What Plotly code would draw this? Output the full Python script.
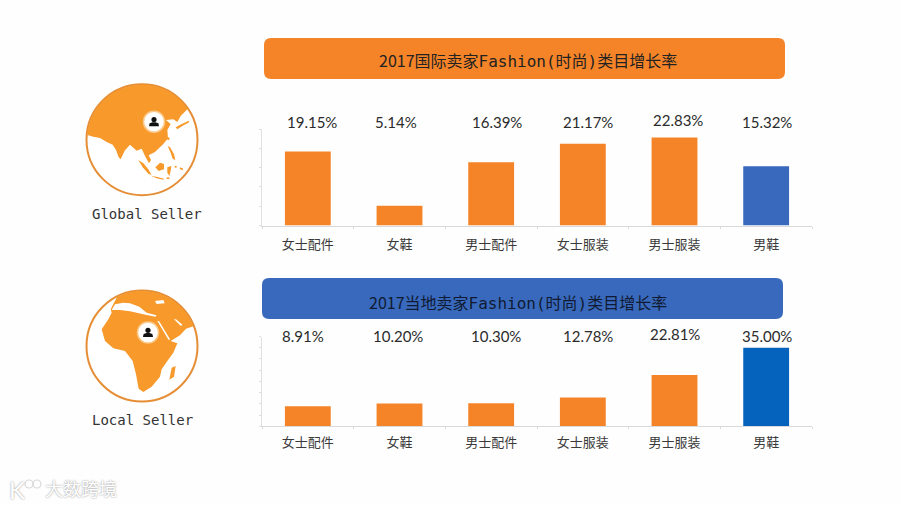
import numpy as np
import plotly.graph_objects as go

W, H = 900, 505

categories = ["女士配件", "女鞋", "男士配件", "女士服装", "男士服装", "男鞋"]
global_values = [19.15, 5.14, 16.39, 21.17, 22.83, 15.32]
local_values = [8.91, 10.20, 10.30, 12.78, 22.81, 35.00]
global_labels = ["19.15%", "5.14%", "16.39%", "21.17%", "22.83%", "15.32%"]
local_labels = ["8.91%", "10.20%", "10.30%", "12.78%", "22.81%", "35.00%"]

ORANGE = "#F58428"
LAND = "#F79A2B"
RIM = "#E58E36"
BLUE_TOP = "#3869BC"
BLUE_BOT = "#0562BD"
CJK = "Noto Sans CJK SC"
MONO = "DejaVu Sans Mono"


def px(x):
    return x / W


def py(y):
    return 1 - y / H


def path(points, close=True):
    s = "M" + " L".join(f"{px(x):.5f},{py(y):.5f}" for x, y in points)
    return s + (" Z" if close else "")


def rounded(x0, y0, x1, y1, r):
    # rounded rectangle in pixel coords
    return (f"M{px(x0 + r)},{py(y0)} L{px(x1 - r)},{py(y0)} Q{px(x1)},{py(y0)} {px(x1)},{py(y0 + r)} "
            f"L{px(x1)},{py(y1 - r)} Q{px(x1)},{py(y1)} {px(x1 - r)},{py(y1)} "
            f"L{px(x0 + r)},{py(y1)} Q{px(x0)},{py(y1)} {px(x0)},{py(y1 - r)} "
            f"L{px(x0)},{py(y0 + r)} Q{px(x0)},{py(y0)} {px(x0 + r)},{py(y0)} Z")


def arc(cx, cy, r, a0, a1, n=40):
    return [(cx + r * np.cos(np.radians(a)), cy + r * np.sin(np.radians(a))) for a in np.linspace(a0, a1, n)]


def crop(points, ox, oy):
    return [(ox + x / 3, oy + y / 3) for x, y in points]


shapes = []


def blob(points, color, line=None):
    shapes.append(dict(type="path", xref="paper", yref="paper", path=path(points), fillcolor=color,
                       line=dict(width=0 if line is None else line, color=color), layer="above"))


def circle(cx, cy, r, fill, rim=None, width=0):
    shapes.append(dict(type="circle", xref="paper", yref="paper", x0=px(cx - r), x1=px(cx + r),
                       y0=py(cy + r), y1=py(cy - r), fillcolor=fill,
                       line=dict(width=width, color=rim or fill), layer="above"))


def person(cx, cy):
    circle(cx, cy, 10.5, "#FFFFFF", "#FBC98A", 1.5)
    circle(cx, cy - 2.2, 2.6, "#111111")
    blob([(cx - 5, cy + 4.5), (cx - 4.4, cy + 1.6), (cx - 1.5, cy + 0.6), (cx + 1.5, cy + 0.6),
          (cx + 4.4, cy + 1.6), (cx + 5, cy + 4.5)], "#111111")


# title bars
shapes.append(dict(type="path", xref="paper", yref="paper", path=rounded(264, 38, 785, 79, 7),
                   fillcolor=ORANGE, line=dict(width=0)))
shapes.append(dict(type="path", xref="paper", yref="paper", path=rounded(262, 278, 783, 319, 7),
                   fillcolor=BLUE_TOP, line=dict(width=0)))

# Asia globe
ox, oy = 80, 80
ccx, ccy, crad = 186, 179, 165
circle(ox + ccx / 3, oy + ccy / 3, 55.5, "#FFFFFF", RIM, 2)
asia = arc(ccx, ccy, crad, -34, -175) + [
    (40, 170), (60, 174), (80, 186), (98, 194), (108, 210), (116, 232), (122, 238), (134, 212),
    (150, 194), (170, 212), (185, 206), (195, 228), (207, 250), (213, 240), (206, 226), (225, 216),
    (250, 192), (264, 175), (262, 150), (272, 132), (258, 120), (280, 118), (292, 126), (302, 108),
]
blob(crop(asia, ox, oy), LAND)
for isl in [
    [(287, 142), (305, 132), (326, 122), (328, 127), (308, 137), (292, 148)],
    [(175, 240), (190, 250), (205, 268), (215, 285), (205, 281), (188, 262)],
    [(226, 262), (240, 248), (252, 252), (252, 268), (236, 273)],
    [(212, 287), (232, 291), (252, 296), (250, 299), (230, 295)],
    [(262, 262), (274, 258), (272, 272), (268, 288), (262, 278)],
    [(263, 198), (270, 202), (282, 222), (286, 240), (278, 236), (272, 218)],
    [(262, 172), (268, 172), (268, 180), (262, 180)],
    [(284, 258), (290, 258), (290, 263), (284, 263)],
    [(300, 262), (310, 266), (308, 271), (299, 267)],
    [(260, 292), (268, 292), (268, 297), (260, 297)],
]:
    blob(crop(isl, ox, oy), LAND)
person(154, 121.7)

# Africa globe
ox, oy = 80, 286
circle(ox + ccx / 3, oy + 180 / 3, 55.5, "#FFFFFF", RIM, 2)
africa = arc(ccx, 180, crad, -117, -21) + [
    (318, 128), (300, 148), (272, 165), (292, 172), (280, 200), (262, 225), (245, 250), (240, 272),
    (215, 302), (190, 318), (176, 308), (168, 265), (158, 225), (135, 195), (100, 187), (75, 165),
    (65, 130), (85, 100), (95, 80), (92, 70),
]
blob(crop(africa, ox, oy), LAND)
for sea in [
    [(95, 72), (105, 55), (130, 50), (150, 52), (178, 62), (200, 80), (230, 88), (226, 92), (190, 85), (150, 76), (120, 72)],
    [(225, 45), (250, 42), (254, 52), (230, 54)],
    [(232, 105), (237, 105), (270, 160), (266, 162)],
    [(282, 100), (288, 100), (308, 117), (302, 119)],
]:
    blob(crop(sea, ox, oy), "#FFFFFF")
blob(crop([(275, 245), (287, 240), (282, 272), (268, 281)], ox, oy), LAND)
person(148, 332.5)

# watermark logo
for cx, cy, r in [(29, 484, 4), (37, 484, 4)]:
    circle(cx, cy, r, "rgba(255,255,255,0)", "#D8D8D8", 1.2)

fig = go.Figure()
fig.add_trace(go.Bar(x=categories, y=global_values, xaxis="x", yaxis="y", width=0.5,
                     marker=dict(color=[ORANGE] * 5 + [BLUE_TOP], line=dict(width=0))))
fig.add_trace(go.Bar(x=categories, y=local_values, xaxis="x2", yaxis="y2", width=0.5,
                     marker=dict(color=[ORANGE] * 5 + [BLUE_BOT], line=dict(width=0))))

xaxis = dict(domain=[px(262), px(812)], type="category", showline=True, linecolor="#D9D9D9", linewidth=1,
             ticks="outside", ticklen=2, tickcolor="#D9D9D9", tickson="boundaries", showgrid=False,
             tickfont=dict(family=CJK, size=13, color="#3A3A3A"), fixedrange=True)
yaxis = dict(showline=True, linecolor="#E0E0E0", linewidth=1, ticks="outside", ticklen=2, tickcolor="#E0E0E0",
             showticklabels=False, showgrid=False, zeroline=False, dtick=5, fixedrange=True)

annotations = []


def note(text, x, y, size, family=CJK, color="#222222", **kw):
    annotations.append(dict(text=text, x=x, y=y, xref="paper", yref="paper", showarrow=False, xanchor="center",
                            yanchor="middle", font=dict(family=family, size=size, color=color), **kw))


def title_text(head, mid):
    return (f"2017{head}<span style=\"font-family:'{MONO}'\">Fashion(</span>时尚"
            f"<span style=\"font-family:'{MONO}'\">)</span>{mid}")


note(title_text("国际卖家", "类目增长率"), px(528), py(59.5), 16)
note(title_text("当地卖家", "类目增长率"), px(518), py(302), 16, color="#101B33")
note("Global Seller", px(147), py(214), 14, family=MONO, color="#333333")
note("Local Seller", px(142), py(420), 14, family=MONO, color="#333333")

# value labels sit at their own offsets in the reference, not centred on the bars
global_shift = [4, -4, 6, 5, 3, 1]
global_y = [122, 122, 122, 122, 120, 122]
local_shift = [-5, -2, 5, 5, 0, 1]
local_y = [335.5, 335.5, 335.5, 335.5, 334, 335.5]
for xref, labels, shifts, ys in [("x", global_labels, global_shift, global_y), ("x2", local_labels, local_shift, local_y)]:
    for cat, lab, sh, yy in zip(categories, labels, shifts, ys):
        annotations.append(dict(text=lab, x=cat, xref=xref, y=py(yy), yref="paper", xshift=sh, showarrow=False,
                                xanchor="center", yanchor="middle",
                                font=dict(family="Lato", size=15, color="#2B2B2B")))

# watermark
wm_shadow = "0px 0px 2px #8A8A8A"
note("大数跨境", px(81), py(488), 18, color="#FFFFFF")
annotations[-1]["font"]["shadow"] = wm_shadow
note("K", px(17), py(489), 24, family="Lato", color="#FFFFFF")
annotations[-1]["font"]["shadow"] = wm_shadow

fig.update_layout(
    width=W, height=H, margin=dict(l=0, r=0, t=0, b=0), showlegend=False,
    paper_bgcolor="#FEFEFE", plot_bgcolor="rgba(0,0,0,0)",
    xaxis=dict(xaxis, anchor="y", ticklabelstandoff=7),
    yaxis=dict(yaxis, domain=[py(225.5), py(129)], range=[0, 25], anchor="x"),
    xaxis2=dict(xaxis, anchor="y2", ticklabelstandoff=4),
    yaxis2=dict(yaxis, domain=[py(426.3), py(336.5)], range=[0, 40], anchor="x2"),
    shapes=shapes, annotations=annotations,
)

fig.write_html("out.html", config=dict(displayModeBar=False), post_script="document.body.style.margin='0';")
